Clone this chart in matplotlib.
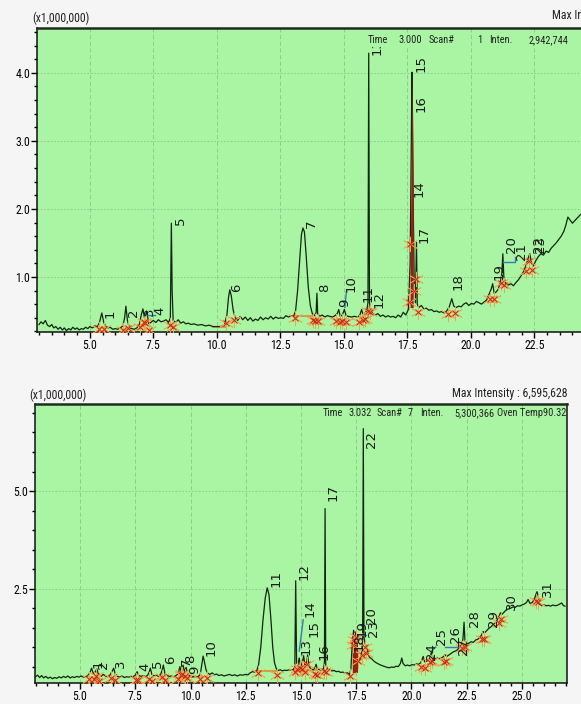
import matplotlib
matplotlib.use("Agg")
import matplotlib.pyplot as plt
from matplotlib import font_manager as fm
from matplotlib.ticker import MultipleLocator, FormatStrFormatter
import numpy as np


def pick_narrow():
    # screenshot uses an Arial Narrow look; take the narrowest face installed
    for name in ['Liberation Sans Narrow', 'Arial Narrow', 'Roboto Condensed',
                 'Open Sans Condensed', 'Noto Sans Condensed']:
        try:
            fm.findfont(fm.FontProperties(family=name), fallback_to_default=False)
            return name, 'normal'
        except ValueError:
            pass
    for name in ['Noto Sans', 'Open Sans', 'DejaVu Sans', 'Roboto']:
        path = fm.findfont(fm.FontProperties(family=name, stretch='condensed'))
        if 'ondensed' in path or 'arrow' in path:
            return name, 'condensed'
    return 'Liberation Sans', 'normal'


NARROW, STRETCH = pick_narrow()
plt.rcParams['font.family'] = [NARROW, 'DejaVu Sans']
plt.rcParams['font.stretch'] = STRETCH
IS_NARROW = STRETCH == 'condensed' or 'Narrow' in NARROW or 'Condensed' in NARROW

# ---- upper chromatogram (time in min, intensity x1,000,000) ----
top_time = [3.00, 3.08, 3.16, 3.25, 3.33, 3.42, 3.50, 3.58, 3.66, 3.75, 3.83, 3.92,
            4.00, 4.08, 4.17, 4.25, 4.33, 4.42, 4.50, 4.58, 4.67, 4.75, 4.83, 4.92,
            5.00, 5.10, 5.20, 5.30, 5.38, 5.47, 5.55, 5.63, 5.72, 5.80, 5.90, 6.00,
            6.10, 6.20, 6.30, 6.37, 6.42, 6.48, 6.56, 6.65, 6.75, 6.85, 6.95, 7.03,
            7.09, 7.16, 7.24, 7.32, 7.40, 7.50, 7.60, 7.70, 7.80, 7.90, 8.00, 8.10,
            8.17, 8.21, 8.24, 8.28, 8.38, 8.48, 8.58, 8.68, 8.78, 8.88, 8.98, 9.10,
            9.25, 9.40, 9.55, 9.70, 9.85, 10.00, 10.15, 10.30, 10.40, 10.46, 10.51, 10.57,
            10.64, 10.72, 10.82, 10.92, 11.02, 11.12, 11.22, 11.32, 11.42, 11.52, 11.62, 11.72,
            11.82, 11.92, 12.02, 12.12, 12.22, 12.32, 12.42, 12.52, 12.62, 12.72, 12.82, 12.92,
            13.02, 13.10, 13.18, 13.26, 13.33, 13.39, 13.45, 13.52, 13.60, 13.68, 13.76, 13.85,
            13.91, 13.94, 13.97, 14.05, 14.15, 14.25, 14.35, 14.45, 14.55, 14.65, 14.74, 14.80,
            14.86, 14.94, 15.02, 15.09, 15.18, 15.30, 15.42, 15.54, 15.63, 15.70, 15.76, 15.84,
            15.91, 15.95, 15.98, 16.01, 16.06, 16.14, 16.24, 16.34, 16.44, 16.54, 16.64, 16.74,
            16.84, 16.94, 17.04, 17.14, 17.24, 17.34, 17.44, 17.54, 17.61, 17.65, 17.68, 17.70,
            17.73, 17.77, 17.82, 17.86, 17.89, 17.95, 18.05, 18.15, 18.25, 18.35, 18.45, 18.55,
            18.65, 18.75, 18.85, 18.95, 19.05, 19.15, 19.25, 19.33, 19.42, 19.52, 19.62, 19.72,
            19.82, 19.92, 20.02, 20.12, 20.22, 20.32, 20.42, 20.52, 20.62, 20.72, 20.80, 20.86,
            20.92, 21.00, 21.08, 21.16, 21.22, 21.26, 21.30, 21.38, 21.48, 21.58, 21.68, 21.78,
            21.88, 21.98, 22.08, 22.18, 22.26, 22.32, 22.38, 22.46, 22.56, 22.66, 22.76, 22.86,
            22.96, 23.06, 23.16, 23.26, 23.36, 23.46, 23.56, 23.66, 23.74, 23.82, 23.90, 24.00,
            24.10, 24.20, 24.30, 24.40, 24.60, 25.00]
top_inten = [.30, .34, .31, .36, .29, .27, .30, .25, .27, .23, .26, .22,
             .25, .21, .24, .22, .26, .23, .25, .22, .24, .23, .26, .24,
             .27, .25, .28, .27, .33, .47, .33, .27, .25, .26, .23, .24,
             .23, .25, .28, .40, .57, .36, .25, .24, .23, .25, .30, .45,
             .53, .38, .50, .31, .33, .36, .33, .37, .34, .35, .37, .33,
             .40, 1.79, .80, .36, .33, .37, .32, .34, .31, .32, .30, .31,
             .29, .30, .28, .29, .27, .27, .27, .29, .45, .70, .81, .72,
             .52, .40, .36, .42, .37, .41, .36, .40, .35, .38, .36, .41,
             .37, .40, .38, .42, .38, .41, .39, .40, .39, .43, .41, .43,
             .42, .50, .80, 1.25, 1.62, 1.72, 1.66, 1.30, .85, .58, .46, .43,
             .48, .76, .46, .42, .44, .41, .43, .42, .41, .43, .46, .52,
             .42, .44, .52, .43, .42, .41, .42, .41, .44, .52, .44, .47,
             .52, .62, 4.29, .62, .50, .46, .44, .46, .42, .44, .41, .43,
             .41, .42, .40, .44, .41, .48, .44, .52, 1.20, 2.70, 4.01, 3.46,
             2.10, .95, .62, 1.51, .60, .55, .58, .53, .54, .51, .52, .49,
             .50, .48, .49, .47, .50, .56, .68, .57, .55, .57, .56, .60,
             .62, .58, .61, .60, .64, .62, .60, .63, .66, .75, .82, .90,
             .76, .78, .82, .92, 1.05, 1.34, 1.00, .90, .88, .90, .87, .92,
             .96, 1.02, 1.08, 1.18, 1.28, 1.34, 1.22, 1.16, 1.24, 1.30, 1.34, 1.32,
             1.38, 1.36, 1.42, 1.46, 1.50, 1.55, 1.60, 1.67, 1.76, 1.88, 1.84, 1.79,
             1.83, 1.87, 1.91, 1.94, 1.96, 2.00]

top_labels = ['1', '2', '3', '4', '5', '6', '7', '8', '9', '10', '11', '12',
              '13', '14', '15', '16', '17', '18', '19', '20', '21', '22', '23']
top_lab_t = [5.55, 6.46, 7.09, 7.52, 8.33, 10.51, 13.46, 14.00, 14.76, 15.04, 15.70, 16.14,
             16.06, 17.70, 17.78, 17.78, 17.90, 19.25, 20.87, 21.34, 21.73, 22.40, 22.48]
top_lab_y = [0.40, 0.41, 0.43, 0.44, 1.76, 0.78, 1.72, 0.78, 0.56, 0.78, 0.63, 0.54,
             4.26, 2.18, 4.01, 3.43, 1.50, 0.81, 0.96, 1.35, 1.25, 1.35, 1.35]
top_marks = [5.38, 5.55, 6.32, 6.50, 6.98, 7.14, 7.18, 7.32, 8.16, 8.29, 10.38, 10.68,
             13.08, 13.78, 13.86, 14.00, 14.68, 14.86, 14.94, 15.10, 15.60, 15.75, 15.85,
             15.94, 16.03, 17.56, 17.62, 17.78, 17.84, 17.92, 19.12, 19.36, 20.74, 20.92,
             21.20, 21.32, 22.18, 22.30, 22.42]
top_base = [(9.85, 10.38, 0.27), (13.08, 13.78, 0.43)]
top_blue = [([7.24, 7.55], [0.44, 0.44]), ([15.04, 15.10], [0.55, 0.78]),
            ([21.26, 21.75, 21.75], [1.22, 1.22, 1.30])]

# ---- lower chromatogram ----
bot_time = [2.98, 3.08, 3.17, 3.26, 3.35, 3.45, 3.55, 3.65, 3.75, 3.85, 3.95, 4.05,
            4.15, 4.25, 4.35, 4.45, 4.55, 4.65, 4.75, 4.85, 4.95, 5.05, 5.15, 5.25,
            5.35, 5.45, 5.52, 5.60, 5.68, 5.76, 5.84, 5.95, 6.05, 6.15, 6.25, 6.35,
            6.45, 6.52, 6.60, 6.70, 6.80, 6.90, 7.00, 7.10, 7.20, 7.30, 7.40, 7.50,
            7.58, 7.66, 7.76, 7.86, 7.96, 8.06, 8.13, 8.18, 8.25, 8.35, 8.45, 8.55,
            8.65, 8.72, 8.77, 8.84, 8.94, 9.04, 9.14, 9.24, 9.34, 9.44, 9.52, 9.58,
            9.66, 9.72, 9.80, 9.88, 9.98, 10.10, 10.22, 10.34, 10.44, 10.52, 10.57, 10.63,
            10.70, 10.78, 10.88, 10.98, 11.08, 11.18, 11.28, 11.40, 11.52, 11.64, 11.76, 11.88,
            12.00, 12.12, 12.24, 12.36, 12.48, 12.60, 12.70, 12.80, 12.90, 13.00, 13.08, 13.18,
            13.28, 13.38, 13.47, 13.55, 13.64, 13.72, 13.80, 13.88, 13.96, 14.06, 14.16, 14.26,
            14.36, 14.46, 14.56, 14.66, 14.72, 14.76, 14.80, 14.86, 14.92, 14.98, 15.06, 15.12,
            15.18, 15.26, 15.30, 15.36, 15.46, 15.56, 15.64, 15.68, 15.74, 15.84, 15.94, 16.02,
            16.06, 16.09, 16.12, 16.20, 16.30, 16.40, 16.50, 16.60, 16.70, 16.80, 16.90, 17.00,
            17.10, 17.20, 17.26, 17.32, 17.38, 17.44, 17.50, 17.56, 17.62, 17.68, 17.74, 17.79,
            17.82, 17.85, 17.90, 17.96, 18.02, 18.10, 18.20, 18.30, 18.40, 18.50, 18.60, 18.70,
            18.80, 18.90, 19.00, 19.10, 19.20, 19.30, 19.40, 19.50, 19.56, 19.62, 19.72, 19.82,
            19.92, 20.02, 20.12, 20.22, 20.32, 20.42, 20.48, 20.53, 20.60, 20.70, 20.80, 20.86,
            20.91, 20.98, 21.08, 21.18, 21.28, 21.38, 21.46, 21.52, 21.60, 21.70, 21.80, 21.90,
            22.00, 22.10, 22.18, 22.26, 22.33, 22.38, 22.42, 22.50, 22.60, 22.70, 22.80, 22.90,
            23.00, 23.10, 23.18, 23.24, 23.30, 23.40, 23.50, 23.60, 23.70, 23.80, 23.90, 23.97,
            24.03, 24.10, 24.20, 24.30, 24.40, 24.50, 24.60, 24.70, 24.80, 24.90, 25.00, 25.10,
            25.20, 25.28, 25.36, 25.46, 25.56, 25.64, 25.68, 25.74, 25.80, 25.90, 26.00, 26.10,
            26.20, 26.30, 26.40, 26.50, 26.60, 26.70, 26.80, 26.88, 26.95]
bot_inten = [.24, .28, .22, .27, .21, .25, .20, .23, .19, .22, .20, .24,
             .21, .25, .22, .26, .21, .24, .22, .25, .23, .26, .23, .24,
             .27, .35, .46, .32, .36, .44, .28, .25, .30, .26, .24, .28,
             .38, .46, .30, .25, .23, .26, .22, .24, .23, .25, .24, .28,
             .37, .27, .25, .27, .24, .28, .36, .46, .30, .26, .28, .25,
             .30, .42, .54, .32, .27, .25, .26, .24, .27, .32, .50, .36,
             .54, .38, .48, .30, .25, .24, .25, .24, .30, .60, .77, .62,
             .42, .33, .30, .34, .29, .31, .27, .29, .26, .28, .30, .27,
             .29, .26, .29, .28, .30, .29, .34, .37, .36, .40, .55, 1.00,
             1.70, 2.25, 2.52, 2.35, 1.70, 1.00, .60, .45, .40, .42, .39, .41,
             .40, .42, .41, .43, .50, 2.70, .60, .55, .72, .50, .60, .78,
             .52, .62, .80, .50, .44, .42, .48, .56, .44, .42, .41, .45,
             .60, 4.55, .55, .44, .41, .39, .40, .37, .38, .35, .36, .33,
             .34, .30, .45, 1.10, 1.43, 1.30, 1.40, .90, .60, .70, .80, 1.20,
             6.60, 1.25, 1.10, 1.00, .85, .74, .70, .64, .60, .57, .54, .52,
             .50, .48, .47, .49, .48, .51, .50, .58, .72, .58, .52, .54,
             .52, .55, .54, .57, .56, .60, .68, .76, .62, .64, .68, .78,
             .88, .72, .70, .72, .70, .73, .76, .80, .76, .80, .84, .88,
             .90, .94, 1.02, 1.05, 1.20, 1.64, 1.18, 1.08, 1.10, 1.14, 1.12, 1.18,
             1.20, 1.25, 1.32, 1.40, 1.36, 1.42, 1.48, 1.52, 1.58, 1.62, 1.72, 1.80,
             1.88, 1.84, 1.90, 1.96, 1.98, 2.00, 2.03, 2.02, 2.06, 2.05, 2.08, 2.10,
             2.14, 2.22, 2.12, 2.14, 2.22, 2.36, 2.42, 2.30, 2.10, 2.06, 2.08, 2.06,
             2.07, 2.05, 2.08, 2.06, 2.07, 2.10, 2.13, 2.06, 2.05]

bot_labels = ['1', '2', '3', '4', '5', '6', '7', '8', '9', '10', '11', '12', '13', '14',
              '15', '16', '17', '18', '19', '20', '22', '23', '24', '25', '26', '27',
              '28', '29', '30', '31']
bot_lab_t = [5.50, 5.78, 6.55, 7.62, 8.22, 8.82, 9.52, 9.70, 9.88, 10.62, 13.58, 14.85,
             14.92, 15.12, 15.30, 15.74, 16.14, 17.34, 17.48, 17.90, 17.88, 17.98, 20.62,
             21.08, 21.70, 22.08, 22.55, 23.40, 24.22, 25.85]
bot_lab_y = [0.47, 0.45, 0.47, 0.38, 0.47, 0.56, 0.52, 0.58, 0.32, 0.78, 2.55, 2.72,
             0.80, 1.77, 1.26, 0.67, 4.75, 0.90, 1.26, 1.60, 6.10, 1.25, 0.67,
             1.05, 1.10, 0.80, 1.52, 1.52, 1.95, 2.28]
bot_marks = [5.42, 5.62, 5.72, 5.86, 6.42, 6.60, 7.52, 7.64, 8.10, 8.27, 8.70, 8.85,
             9.45, 9.55, 9.63, 9.75, 9.85, 10.45, 10.75, 13.05, 13.90, 14.72, 14.82,
             14.95, 15.05, 15.18, 15.28, 15.62, 15.74, 16.04, 16.14, 17.24, 17.34, 17.42,
             17.50, 17.58, 17.76, 17.88, 17.96, 20.45, 20.60, 20.86, 20.95, 21.45, 21.55,
             22.30, 22.44, 23.20, 23.30, 23.95, 24.05, 25.62, 25.74]
bot_base = [(9.95, 10.75, 0.24), (13.05, 13.90, 0.38), (14.72, 15.74, 0.42)]
bot_blue = [([14.92, 15.10], [0.90, 1.70]), ([17.45, 17.95], [1.30, 1.30]),
            ([20.91, 21.10], [0.90, 1.00]), ([21.52, 22.20], [1.00, 1.00])]

GREEN = '#a9f5a3'
W, H = 581, 704


def draw_panel(ax, time, inten, marks, drop, base, blue, fill, labels, lab_t, lab_y):
    ax.set_facecolor(GREEN)
    ax.plot(time, inten, color='#0f250f', lw=0.9, zorder=3)
    t = np.array(time)
    v = np.array(inten)
    sel = (t >= fill[0]) & (t <= fill[1])
    ax.fill_between(t[sel], fill[2], v[sel], color='#9b1e12', lw=0, zorder=4)
    for x0, x1, y0 in base:
        ax.plot([x0, x1], [y0, y0], color='#e08a30', lw=1.2, zorder=2)
    for xs, ys in blue:
        ax.plot(xs, ys, color='#3a78b8', lw=1.0, zorder=4)
    my = np.interp(marks, time, inten) - drop
    ax.plot(marks, my, ls='none', marker=(6, 2, 0), ms=11, mec='#f2a24a', mew=0.5, zorder=5)
    ax.plot(marks, my, ls='none', marker='x', ms=5, mec='#c8281a', mew=0.7, zorder=5)
    for s, x, y in zip(labels, lab_t, lab_y):
        ax.text(x, y, s, rotation=90, ha='left', va='bottom', fontsize=9.5,
                family='DejaVu Sans', stretch='normal', color='#1a1a1a', zorder=6,
                clip_on=True)

    ax.xaxis.set_major_locator(MultipleLocator(2.5))
    ax.xaxis.set_minor_locator(MultipleLocator(0.5))
    ax.xaxis.set_major_formatter(FormatStrFormatter('%.1f'))
    ax.yaxis.set_major_formatter(FormatStrFormatter('%.1f'))
    ax.tick_params(which='major', direction='out', length=4, width=1, pad=1,
                   labelsize=8.5 if IS_NARROW else 7)
    ax.tick_params(which='minor', direction='out', length=2.5, width=1)
    ax.xaxis.grid(True, color='#8cc488', ls=(0, (5, 3)), lw=0.6)
    ax.yaxis.grid(True, color='#8cc488', ls=(0, (2, 2)), lw=0.6)
    ax.set_axisbelow(True)
    ax.spines['top'].set_linewidth(1.8)
    ax.spines['top'].set_color('#1e2e1e')
    for s in ['left', 'bottom', 'right']:
        ax.spines[s].set_linewidth(1.1)
        ax.spines[s].set_color('#111111')


fig = plt.figure(figsize=(W / 100, H / 100), dpi=100, facecolor='#f5f5f5')

# upper panel runs off the right edge of the screenshot
ax1 = fig.add_axes([37 / W, 1 - 332 / H, 24.0 * 25.4 / W, 304 / H])
ax1.set_xlim(2.92, 26.92)
ax1.set_ylim(0.19, 4.66)
ax1.yaxis.set_major_locator(MultipleLocator(1.0))
ax1.yaxis.set_minor_locator(MultipleLocator(0.2))
draw_panel(ax1, top_time, top_inten, top_marks, 0.09, top_base, top_blue,
           (17.60, 17.74, 0.55), top_labels, top_lab_t, top_lab_y)

ax2 = fig.add_axes([35 / W, 1 - 683 / H, 532 / W, 279 / H])
ax2.set_xlim(2.96, 27.04)
ax2.set_ylim(0.08, 7.23)
ax2.yaxis.set_major_locator(MultipleLocator(2.5))
ax2.yaxis.set_minor_locator(MultipleLocator(0.5))
draw_panel(ax2, bot_time, bot_inten, bot_marks, 0.15, bot_base, bot_blue,
           (17.28, 17.58, 0.35), bot_labels, bot_lab_t, bot_lab_y)

HDR = 8.5 if IS_NARROW else 7
STRIP = 7.5 if IS_NARROW else 6.5


def ftext(px, py, s, size=HDR, **kw):
    fig.text(px / W, 1 - py / H, s, va='center', fontsize=size, color='#222222', **kw)


ftext(32, 18, '(x1,000,000)')
ftext(552, 15, 'Max Intensity')
box = dict(fc=GREEN, ec='none', pad=1.5)
for px, s in [(368, 'Time'), (398, '3.000'), (429, 'Scan#'), (477, '1'),
              (489, 'Inten.'), (529, '2,942,744')]:
    ftext(px, 40, s, size=STRIP, bbox=box, zorder=10)

ftext(29, 395, '(x1,000,000)')
ftext(567, 393, 'Max Intensity : 6,595,628', ha='right')
for px, s in [(323, 'Time'), (348, '3.032'), (377, 'Scan#'), (408, '7'),
              (420, 'Inten.'), (454, '5,300,366')]:
    ftext(px, 413, s, size=STRIP, zorder=10)
ftext(566, 413, 'Oven Temp90.32', size=STRIP, ha='right', zorder=10)

fig.savefig('out.png', dpi=100, facecolor=fig.get_facecolor())
